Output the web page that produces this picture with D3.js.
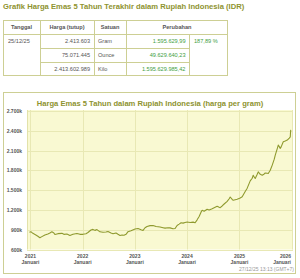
<!DOCTYPE html>
<html><head><meta charset="utf-8">
<script src="https://cdn.jsdelivr.net/npm/d3@7"></script>
<style>
html,body{margin:0;padding:0;background:#fff;}
svg{display:block;font-family:"Liberation Sans",Arial,sans-serif;}
</style></head><body>
<svg id="c" width="300" height="278"></svg>
<script>
// ---- data ----
const pageTitle = "Grafik Harga Emas 5 Tahun Terakhir dalam Rupiah Indonesia (IDR)";
const tableHeaders = ["Tanggal","Harga (tutup)","Satuan","Perubahan"];
const tableDate = "25/12/25";
const tablePrices = ["2.413.603","75.071.445","2.413.602.989"];
const tableUnits = ["Gram","Ounce","Kilo"];
const tableChanges = ["1.595.629,99","49.629.640,23","1.595.629.985,42"];
const tablePct = "187,89 %";
const chartTitle = "Harga Emas 5 Tahun dalam Rupiah Indonesia (harga per gram)";
const timestamp = "27/12/25 13:13 (GMT+7)";
const yTicks = [600,900,1200,1500,1800,2100,2400,2700];
const xTickYears = [2021,2022,2023,2024,2025,2026];
const xTickSub = "Januari";
const dates = ["2020-12-25","2021-01-04","2021-01-18","2021-02-08","2021-02-22","2021-03-08","2021-03-22","2021-04-12","2021-05-03","2021-05-17","2021-05-31","2021-06-14","2021-06-21","2021-07-12","2021-08-09","2021-08-23","2021-09-13","2021-10-04","2021-10-25","2021-11-22","2021-12-13","2022-01-03","2022-01-24","2022-02-07","2022-02-28","2022-03-14","2022-03-28","2022-04-11","2022-05-02","2022-05-23","2022-06-13","2022-06-27","2022-07-18","2022-08-01","2022-08-22","2022-09-05","2022-09-19","2022-10-03","2022-10-17","2022-10-31","2022-11-14","2022-12-05","2023-01-02","2023-01-23","2023-02-13","2023-02-27","2023-03-13","2023-03-27","2023-04-17","2023-05-08","2023-05-29","2023-06-26","2023-07-17","2023-07-31","2023-08-21","2023-09-04","2023-09-25","2023-10-09","2023-10-23","2023-11-06","2023-11-20","2023-12-04","2023-12-18","2024-01-01","2024-01-22","2024-02-12","2024-02-26","2024-03-11","2024-03-25","2024-04-08","2024-04-15","2024-04-29","2024-05-20","2024-06-03","2024-06-24","2024-07-15","2024-07-29","2024-08-12","2024-08-19","2024-09-02","2024-09-16","2024-10-07","2024-10-21","2024-10-28","2024-11-11","2024-11-18","2024-12-02","2024-12-16","2025-01-06","2025-01-20","2025-02-10","2025-02-24","2025-03-17","2025-03-31","2025-04-07","2025-04-14","2025-04-21","2025-05-05","2025-05-12","2025-05-26","2025-06-09","2025-06-23","2025-06-30","2025-07-14","2025-07-21","2025-08-04","2025-08-18","2025-09-01","2025-09-08","2025-09-22","2025-09-29","2025-10-06","2025-10-13","2025-10-20","2025-11-03","2025-11-17","2025-12-01","2025-12-15","2025-12-22","2025-12-23","2025-12-25"];
const prices = [863,870,845,820,800,778,795,820,835,850,868,850,828,840,845,830,835,813,830,842,830,830,840,858,895,905,890,902,868,862,866,872,850,838,850,830,813,820,815,830,870,885,910,918,900,889,930,950,962,965,948,940,930,924,930,928,915,918,965,985,1006,1000,1010,1016,1010,1015,1006,1050,1100,1170,1194,1180,1209,1200,1219,1240,1254,1240,1235,1260,1290,1330,1370,1396,1360,1346,1355,1361,1380,1400,1480,1530,1640,1680,1726,1700,1676,1740,1777,1740,1726,1745,1761,1755,1752,1802,1880,1970,2030,2130,2183,2160,2133,2160,2233,2245,2259,2290,2309,2350,2414];

// ---- drawing ----
const svg = d3.select("#c");
const olive = "#8f9a2e";
const titleCol = "#8e9330";
const border = "#cdcf94";
const txt = "#555";
const green = "#3f9e3f";

svg.append("text").attr("x",3).attr("y",9).attr("font-size",7.65).attr("font-weight","bold")
  .attr("fill",titleCol).text(pageTitle);

// table
const colX = [3,40,94,126,189,228];
const rowY = [20,34,48,62,76];
const tb = svg.append("g");
tb.append("rect").attr("x",3.5).attr("y",20.5).attr("width",224).attr("height",55).attr("fill","#fff").attr("stroke",border);
const hl = (x1,y1,x2,y2)=>tb.append("line").attr("x1",x1).attr("y1",y1).attr("x2",x2).attr("y2",y2).attr("stroke",border);
hl(3,34.5,228,34.5);
hl(40,48.5,189,48.5); hl(40,62.5,189,62.5);
[40,94,126].forEach(x=>hl(x+0.5,20,x+0.5,76));
hl(189.5,34,189.5,76);
const hdrCx = [21.5,67,110,177];
tableHeaders.forEach((h,i)=>tb.append("text").attr("x",hdrCx[i]).attr("y",29).attr("text-anchor","middle")
  .attr("font-size",5.6).attr("font-weight","bold").attr("fill","#555").text(h));
tb.append("text").attr("x",8).attr("y",43).attr("font-size",5.6).attr("fill",txt).text(tableDate);
tb.append("text").attr("x",194).attr("y",43).attr("font-size",5.6).attr("fill",green).text(tablePct);
tablePrices.forEach((p,i)=>{
  const y = rowY[i+1]+9;
  tb.append("text").attr("x",90).attr("y",y).attr("text-anchor","end").attr("font-size",5.6).attr("fill",txt).text(p);
  tb.append("text").attr("x",98).attr("y",y).attr("font-size",5.6).attr("fill",txt).text(tableUnits[i]);
  tb.append("text").attr("x",185.5).attr("y",y).attr("text-anchor","end").attr("font-size",5.6).attr("fill",green).text(tableChanges[i]);
});

// chart panel
svg.append("rect").attr("x",3.5).attr("y",92.5).attr("width",292).attr("height",181).attr("fill","#fff").attr("stroke",border);
svg.append("text").attr("x",150).attr("y",106).attr("text-anchor","middle").attr("font-size",7.6).attr("font-weight","bold")
  .attr("fill",titleCol).text(chartTitle);

const pl = 27, pr = 293, pt = 110, pb = 249.5;
const parse = d3.timeParse("%Y-%m-%d");
const x = d3.scaleTime().domain([new Date(2020,11,8), new Date(2026,0,10)]).range([pl,pr]);
const y = d3.scaleLinear().domain([600,2700]).range([pb,pt+1]);

svg.append("rect").attr("x",pl).attr("y",pt).attr("width",pr-pl).attr("height",pb-pt).attr("fill","#f9f9d2");

const grid = svg.append("g");
yTicks.forEach(v=>grid.append("line").attr("x1",pl).attr("x2",pr).attr("y1",Math.round(y(v))+0.5).attr("y2",Math.round(y(v))+0.5)
  .attr("stroke","#e8e8b4").attr("stroke-width",1));
xTickYears.forEach(yr=>{const xx=Math.round(x(new Date(yr,0,1)))+0.5;
  grid.append("line").attr("x1",xx).attr("x2",xx).attr("y1",pt).attr("y2",pb).attr("stroke","#e8e8b4");});
grid.append("line").attr("x1",pl+0.5).attr("x2",pl+0.5).attr("y1",pt).attr("y2",pb).attr("stroke","#e2e2aa");

const fmt = d3.formatLocale({decimal:",",thousands:".",grouping:[3],currency:["",""]}).format(",");
const yAxis = d3.axisLeft(y).tickValues(yTicks).tickSize(0).tickPadding(5).tickFormat(d=>fmt(d)+"k");
const ya = svg.append("g").attr("transform",`translate(${pl},0)`).call(yAxis);
ya.select(".domain").remove();
ya.selectAll("text").attr("font-size",5).attr("font-weight","bold").attr("fill","#555").attr("font-family","Liberation Sans, Arial, sans-serif");

const xa = svg.append("g");
xTickYears.forEach((yr,i)=>{
  const xx = x(new Date(yr,0,1));
  const last = i===xTickYears.length-1;
  const anchor = last ? "end" : "middle";
  const px = last ? 291 : xx;
  xa.append("text").attr("x",px).attr("y",258).attr("text-anchor",anchor).attr("font-size",5).attr("font-weight","bold").attr("fill","#555").text(yr);
  xa.append("text").attr("x",px).attr("y",263.5).attr("text-anchor",anchor).attr("font-size",5).attr("font-weight","bold").attr("fill","#555").text(xTickSub);
});

const data = dates.map((d,i)=>({d:parse(d),v:prices[i]}));
svg.append("path").datum(data).attr("fill","none").attr("stroke",olive).attr("stroke-width",1.1)
  .attr("stroke-linejoin","round")
  .attr("d",d3.line().x(p=>x(p.d)).y(p=>y(p.v)));

svg.append("text").attr("x",294).attr("y",271).attr("text-anchor","end").attr("font-size",5).attr("fill","#999").text(timestamp);
</script>
</body></html>
